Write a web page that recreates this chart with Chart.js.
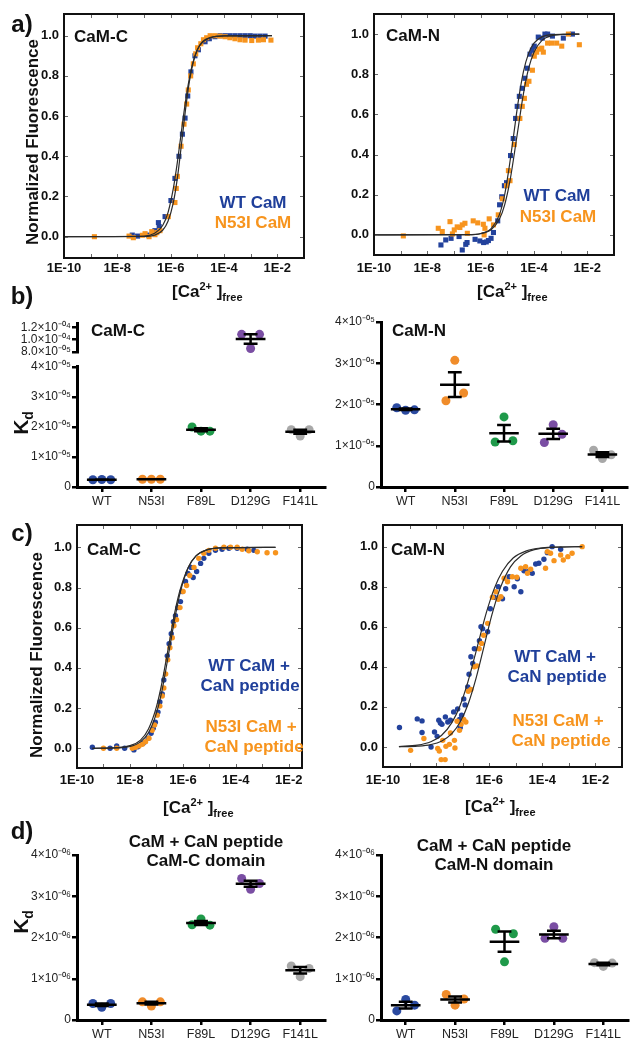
<!DOCTYPE html>
<html>
<head>
<meta charset="utf-8">
<title>CaM Ca2+ binding</title>
<script src="https://cdn.jsdelivr.net/npm/chart.js@4.4.1/dist/chart.umd.min.js"></script>
<style>
  body { margin: 0; background: #fff; }
  #fig { position: relative; width: 641px; height: 1050px; overflow: hidden;
         font-family: "Liberation Sans", Arial, Helvetica, sans-serif; color: #111; }
  canvas { position: absolute; }
  .t { position: absolute; font-weight: bold; white-space: nowrap; line-height: 1; font-size: 17px; }
  .c { transform: translate(-50%, -50%); }
  .r { transform: translate(-50%, -50%) rotate(-90deg); }
  .v { transform: translateY(-50%); }
  .lt { font-size: 24px; }
  .blue { color: #1f3f9a; }
  .orange { color: #f7941d; }
  .sp { font-size: 11px; position: relative; top: -7px; }
  .sb { font-size: 11px; position: relative; top: 4px; }
  .kd { font-size: 21px; }
  .kd span { font-size: 14px; position: relative; top: 5px; }
</style>
</head>
<body>
<div id="fig">
  <canvas id="aC" width="320" height="285" style="left:0;top:0"></canvas>
  <canvas id="aN" width="321" height="285" style="left:320px;top:0"></canvas>
  <canvas id="bCtop" width="330" height="80" style="left:0;top:300px"></canvas>
  <canvas id="bC" width="330" height="215" style="left:0;top:300px"></canvas>
  <canvas id="bN" width="321" height="215" style="left:320px;top:300px"></canvas>
  <canvas id="cC" width="320" height="290" style="left:0;top:510px"></canvas>
  <canvas id="cN" width="321" height="290" style="left:320px;top:510px"></canvas>
  <canvas id="dC" width="330" height="210" style="left:0;top:840px"></canvas>
  <canvas id="dN" width="321" height="210" style="left:320px;top:840px"></canvas>

  <div class="t c lt" style="left:22px;top:24px">a)</div>
  <div class="t c lt" style="left:22px;top:296px">b)</div>
  <div class="t c lt" style="left:22px;top:533px">c)</div>
  <div class="t c lt" style="left:22px;top:831px">d)</div>

  <div class="t r" style="left:32px;top:142px">Normalized Fluorescence</div>
  <div class="t r" style="left:36px;top:655px">Normalized Fluorescence</div>
  <div class="t r kd" style="left:20px;top:423px">K<span>d</span></div>
  <div class="t r kd" style="left:20px;top:922px">K<span>d</span></div>

  <div class="t v" style="left:172px;top:291px">[Ca<span class="sp">2+</span> ]<span class="sb">free</span></div>
  <div class="t v" style="left:477px;top:291px">[Ca<span class="sp">2+</span> ]<span class="sb">free</span></div>
  <div class="t v" style="left:163px;top:807px">[Ca<span class="sp">2+</span> ]<span class="sb">free</span></div>
  <div class="t v" style="left:465px;top:806px">[Ca<span class="sp">2+</span> ]<span class="sb">free</span></div>

  <div class="t c" style="left:101px;top:36px">CaM-C</div>
  <div class="t c blue" style="left:253px;top:202px">WT CaM</div>
  <div class="t c orange" style="left:253px;top:222px">N53I CaM</div>
  <div class="t c" style="left:413px;top:35px">CaM-N</div>
  <div class="t c blue" style="left:557px;top:195px">WT CaM</div>
  <div class="t c orange" style="left:558px;top:216px">N53I CaM</div>

  <div class="t c" style="left:118px;top:330px">CaM-C</div>
  <div class="t c" style="left:419px;top:330px">CaM-N</div>

  <div class="t c" style="left:114px;top:549px">CaM-C</div>
  <div class="t c blue" style="left:249px;top:665px">WT CaM +</div>
  <div class="t c blue" style="left:250px;top:685px">CaN peptide</div>
  <div class="t c orange" style="left:251px;top:726px">N53I CaM +</div>
  <div class="t c orange" style="left:254px;top:746px">CaN peptide</div>
  <div class="t c" style="left:418px;top:549px">CaM-N</div>
  <div class="t c blue" style="left:555px;top:656px">WT CaM +</div>
  <div class="t c blue" style="left:557px;top:676px">CaN peptide</div>
  <div class="t c orange" style="left:558px;top:720px">N53I CaM +</div>
  <div class="t c orange" style="left:561px;top:740px">CaN peptide</div>

  <div class="t c" style="left:206px;top:841px">CaM + CaN peptide</div>
  <div class="t c" style="left:206px;top:860px">CaM-C domain</div>
  <div class="t c" style="left:494px;top:845px">CaM + CaN peptide</div>
  <div class="t c" style="left:494px;top:864px">CaM-N domain</div>
</div>

<script>
'use strict';

// Titration points: [log10 [Ca2+]free, normalized fluorescence]
// a) CaM alone, C-domain
const aC_wt = [[-7.44,0.008],[-7.24,0.003],[-6.84,0.008],[-6.59,0.03],[-6.46,0.07],[-6.43,0.05],[-6.21,0.10],
    [-5.99,0.18],[-5.84,0.29],[-5.69,0.40],[-5.56,0.51],[-5.46,0.59],[-5.36,0.70],[-5.24,0.82],[-5.09,0.90],
    [-4.96,0.93],[-4.71,0.97],[-4.55,0.985],[-4.34,0.995],[-4.15,1.0],[-3.96,1.0],[-3.78,1.0],[-3.59,1.0],
    [-3.4,1.0],[-3.21,1.0],[-3.02,1.0],[-2.84,0.998],[-2.65,0.998],[-2.46,0.998]];
const aC_mut = [[-8.86,0.0],[-7.56,0.003],[-7.4,-0.005],[-7.06,0.007],[-6.96,0.015],[-6.81,0.0],[-6.71,0.025],
    [-6.59,0.01],[-6.52,0.02],[-6.4,0.03],[-6.09,0.10],[-5.84,0.17],[-5.79,0.24],[-5.75,0.30],[-5.61,0.45],
    [-5.5,0.56],[-5.4,0.66],[-5.34,0.73],[-5.25,0.80],[-5.15,0.86],[-5.06,0.91],[-4.99,0.94],[-4.87,0.96],
    [-4.77,0.98],[-4.65,0.99],[-4.52,1.0],[-4.34,1.0],[-4.15,0.998],[-3.96,0.995],[-3.78,0.99],[-3.59,0.985],
    [-3.4,0.98],[-3.21,0.978],[-2.96,0.976],[-2.71,0.978],[-2.52,0.98],[-2.24,0.978]];
const aC_wtFit = [[-10,0],[-7.0,0.003],[-6.6,0.017],[-6.3,0.056],[-6.1,0.12],[-5.9,0.24],[-5.75,0.37],[-5.62,0.5],
    [-5.5,0.62],[-5.35,0.75],[-5.2,0.85],[-5.0,0.93],[-4.8,0.968],[-4.5,0.99],[-4.0,0.999],[-2.2,1.0]];
const aC_mutFit = [[-10,0],[-7.0,0.001],[-6.6,0.008],[-6.3,0.032],[-6.1,0.077],[-5.9,0.17],[-5.75,0.29],[-5.56,0.5],
    [-5.45,0.625],[-5.3,0.77],[-5.15,0.87],[-5.0,0.93],[-4.8,0.971],[-4.5,0.992],[-4.0,0.9995],[-2.2,1.0]];

// a) CaM alone, N-domain
const aN_wt = [[-7.49,-0.05],[-7.31,-0.025],[-7.11,-0.017],[-6.81,-0.008],[-6.69,-0.075],[-6.56,-0.047],
    [-6.51,-0.038],[-6.21,-0.022],[-6.03,-0.03],[-5.89,-0.038],[-5.79,-0.035],[-5.71,-0.028],[-5.61,-0.017],
    [-5.52,0.012],[-5.36,0.07],[-5.29,0.15],[-5.21,0.19],[-5.11,0.245],[-5.03,0.26],[-4.88,0.395],[-4.78,0.48],
    [-4.69,0.58],[-4.63,0.64],[-4.55,0.69],[-4.44,0.73],[-4.34,0.78],[-4.25,0.83],[-4.15,0.90],[-4.06,0.92],
    [-3.99,0.94],[-3.84,0.985],[-3.69,0.98],[-3.59,1.0],[-3.49,1.0],[-3.31,0.99],[-2.9,0.98],[-2.56,1.0]];
const aN_mut = [[-8.9,-0.005],[-7.59,0.033],[-7.44,0.017],[-7.15,0.066],[-7.06,0.005],[-6.99,0.025],[-6.88,0.04],
    [-6.78,0.037],[-6.69,0.05],[-6.59,0.058],[-6.5,0.008],[-6.28,0.07],[-6.11,0.06],[-5.9,0.053],[-5.87,0.0],
    [-5.84,0.033],[-5.68,0.08],[-5.52,0.05],[-5.34,0.10],[-5.19,0.18],[-5.03,0.245],[-4.96,0.32],[-4.9,0.27],
    [-4.74,0.45],[-4.53,0.58],[-4.44,0.64],[-4.36,0.68],[-4.28,0.75],[-4.19,0.765],[-4.06,0.82],[-3.99,0.89],
    [-3.9,0.91],[-3.81,0.925],[-3.71,0.93],[-3.65,0.91],[-3.49,0.955],[-3.34,0.955],[-3.15,0.955],[-2.96,0.94],
    [-2.71,1.0],[-2.3,0.947]];
const aN_wtFit = [[-10,0],[-6.5,0.001],[-6.0,0.007],[-5.6,0.033],[-5.3,0.10],[-5.1,0.20],[-4.95,0.32],[-4.76,0.5],
    [-4.6,0.656],[-4.4,0.81],[-4.2,0.905],[-4.0,0.955],[-3.7,0.986],[-3.3,0.997],[-2.3,1.0]];
const aN_mutFit = [[-10,0],[-6.5,0.001],[-6.0,0.006],[-5.6,0.027],[-5.3,0.078],[-5.1,0.15],[-4.9,0.27],[-4.63,0.5],
    [-4.4,0.70],[-4.2,0.83],[-4.0,0.91],[-3.7,0.969],[-3.3,0.993],[-2.8,0.999],[-2.3,1.0]];

// c) CaM + CaN peptide, C-domain
const cC_wt = [[-9.42,0.005],[-8.75,0.0],[-8.5,0.012],[-8.2,0.0],[-7.85,-0.008],[-7.7,0.008],[-7.5,0.025],
    [-7.31,0.05],[-7.2,0.075],[-7.12,0.10],[-7.04,0.13],[-6.94,0.18],[-6.87,0.23],[-6.78,0.27],[-6.72,0.34],
    [-6.59,0.46],[-6.52,0.52],[-6.44,0.57],[-6.36,0.63],[-6.28,0.66],[-6.19,0.70],[-6.09,0.73],[-6.03,0.78],
    [-5.9,0.83],[-5.81,0.87],[-5.69,0.90],[-5.61,0.85],[-5.48,0.88],[-5.33,0.92],[-5.21,0.945],[-5.02,0.97],
    [-4.77,0.985],[-4.52,0.99],[-4.26,0.995],[-3.95,0.995],[-3.57,0.99],[-3.32,0.985]];
const cC_mut = [[-9.0,0.0],[-8.5,0.0],[-7.91,0.0],[-7.79,0.005],[-7.66,0.012],[-7.53,0.02],[-7.41,0.033],
    [-7.28,0.05],[-7.16,0.09],[-7.07,0.116],[-6.97,0.165],[-6.87,0.21],[-6.78,0.26],[-6.72,0.30],[-6.65,0.37],
    [-6.57,0.44],[-6.49,0.50],[-6.4,0.55],[-6.34,0.61],[-6.24,0.64],[-6.11,0.70],[-5.99,0.78],[-5.86,0.81],
    [-5.74,0.86],[-5.58,0.90],[-5.4,0.945],[-5.21,0.97],[-5.02,0.985],[-4.77,0.995],[-4.45,1.0],[-4.2,1.0],
    [-3.95,1.0],[-3.76,0.99],[-3.51,0.983],[-3.19,0.978],[-2.82,0.973],[-2.5,0.973]];
const cC_wtFit = [[-9.42,0.0],[-8.5,0.003],[-8.0,0.013],[-7.6,0.041],[-7.3,0.096],[-7.0,0.206],[-6.8,0.32],
    [-6.55,0.5],[-6.3,0.68],[-6.1,0.79],[-5.8,0.90],[-5.5,0.959],[-5.1,0.987],[-4.6,0.997],[-2.5,1.0]];
const cC_mutFit = [[-9.42,0.0],[-8.5,0.002],[-8.0,0.009],[-7.6,0.032],[-7.3,0.077],[-7.0,0.175],[-6.8,0.28],
    [-6.5,0.5],[-6.3,0.65],[-6.1,0.776],[-5.8,0.898],[-5.5,0.957],[-5.1,0.987],[-4.6,0.997],[-2.5,1.0]];

// c) CaM + CaN peptide, N-domain
const cN_wt = [[-9.38,0.097],[-8.71,0.14],[-8.53,0.13],[-8.53,0.072],[-8.19,0.0],[-8.06,0.075],[-7.96,0.053],
    [-7.9,0.133],[-7.84,0.12],[-7.78,0.113],[-7.65,0.15],[-7.56,0.125],[-7.46,0.133],[-7.34,0.175],[-7.19,0.19],
    [-7.12,0.137],[-7.09,0.097],[-7.04,0.158],[-6.96,0.24],[-6.91,0.21],[-6.81,0.30],[-6.76,0.363],[-6.69,0.45],
    [-6.62,0.417],[-6.56,0.49],[-6.37,0.53],[-6.31,0.60],[-6.25,0.59],[-6.06,0.575],[-5.96,0.69],[-5.81,0.747],
    [-5.66,0.80],[-5.5,0.74],[-5.38,0.79],[-5.25,0.85],[-5.06,0.80],[-4.94,0.84],[-4.81,0.775],[-4.69,0.88],
    [-4.54,0.875],[-4.38,0.867],[-4.25,0.913],[-4.13,0.917],[-3.94,0.937],[-3.81,0.97],[-3.63,1.0],[-3.31,0.987]];
const cN_mut = [[-8.96,-0.017],[-8.46,0.042],[-7.94,-0.008],[-7.88,-0.02],[-7.81,-0.063],[-7.66,-0.063],
    [-7.75,0.033],[-7.63,0.003],[-7.5,0.013],[-7.46,0.07],[-7.31,0.033],[-7.29,-0.005],[-7.21,0.128],[-7.12,0.083],
    [-7.06,0.113],[-6.96,0.137],[-6.88,0.125],[-6.79,0.278],[-6.69,0.287],[-6.56,0.40],[-6.46,0.405],[-6.38,0.49],
    [-6.29,0.517],[-6.21,0.558],[-6.06,0.617],[-5.88,0.747],[-5.75,0.775],[-5.66,0.737],[-5.56,0.75],[-5.44,0.842],
    [-5.31,0.825],[-5.13,0.85],[-4.96,0.847],[-4.81,0.892],[-4.63,0.90],[-4.56,0.867],[-4.44,0.887],[-3.88,0.892],
    [-3.81,0.975],[-3.69,0.967],[-3.56,0.93],[-3.31,0.958],[-3.21,0.933],[-3.04,0.95],[-2.88,0.967],[-2.5,1.0]];
const cN_wtFit = [[-9.4,0.002],[-8.7,0.009],[-8.2,0.026],[-7.8,0.057],[-7.4,0.123],[-7.1,0.206],[-6.8,0.326],
    [-6.45,0.5],[-6.1,0.674],[-5.8,0.794],[-5.5,0.877],[-5.1,0.943],[-4.6,0.979],[-4.0,0.994],[-3.3,0.998],[-2.5,1.0]];
const cN_mutFit = [[-9.4,0.001],[-8.7,0.004],[-8.2,0.012],[-7.8,0.029],[-7.4,0.068],[-7.1,0.123],[-6.8,0.212],
    [-6.5,0.341],[-6.2,0.5],[-5.9,0.659],[-5.6,0.788],[-5.2,0.899],[-4.8,0.955],[-4.3,0.985],[-3.7,0.996],[-2.5,1.0]];

// Kd replicates (M), one list per mutant
const MUTANTS = ['WT', 'N53I', 'F89L', 'D129G', 'F141L'];
const bC_kd = [[2.4e-6, 2.5e-6, 2.4e-6], [2.6e-6, 2.6e-6, 2.6e-6], [2.0e-5, 1.86e-5, 1.86e-5],
    [1.086e-4, 0.857e-4, 1.086e-4], [1.91e-5, 1.70e-5, 1.91e-5]];
const bN_kd = [[1.92e-5, 1.86e-5, 1.87e-5], [2.09e-5, 3.07e-5, 2.28e-5], [1.09e-5, 1.70e-5, 1.12e-5],
    [1.08e-5, 1.51e-5, 1.28e-5], [0.89e-5, 0.69e-5, 0.78e-5]];
const dC_kd = [[0.40e-6, 0.31e-6, 0.40e-6], [0.44e-6, 0.34e-6, 0.44e-6], [2.31e-6, 2.45e-6, 2.30e-6],
    [3.43e-6, 3.17e-6, 3.31e-6], [1.31e-6, 1.05e-6, 1.25e-6]];
const dN_kd = [[0.22e-6, 0.50e-6, 0.36e-6], [0.62e-6, 0.36e-6, 0.51e-6], [2.20e-6, 1.41e-6, 2.09e-6],
    [1.98e-6, 2.26e-6, 1.98e-6], [1.39e-6, 1.30e-6, 1.38e-6]];

const FRACTION_TICKS = [0, 0.2, 0.4, 0.6, 0.8, 1.0];

// styles
const BLUE = '#23429c', ORANGE = '#f7941e';
const KD_COLORS = ['#2b4aa0', '#f08c2a', '#1f9a4a', '#7a4ea3', '#a8a8a8'];
const JITTER = [-0.18, 0, 0.18];
const MEAN_W = 0.3, CAP_W = 0.14;

Chart.defaults.font.family = '"Liberation Sans", Arial, Helvetica, sans-serif';
Chart.defaults.color = '#111';

const toPts = a => a.map(p => ({x: p[0], y: p[1]}));

// box round the plot area, with short inward ticks
const framePlugin = {
    id: 'frame',
    afterDraw(chart) {
        const {ctx, chartArea: a, scales} = chart;
        ctx.save();
        ctx.strokeStyle = '#666';
        ctx.lineWidth = 1;
        ctx.beginPath();
        for (const t of scales.x.ticks) {
            const px = Math.round(scales.x.getPixelForValue(t.value)) + 0.5;
            ctx.moveTo(px, a.bottom); ctx.lineTo(px, a.bottom - 4);
            ctx.moveTo(px, a.top); ctx.lineTo(px, a.top + 4);
        }
        for (const t of scales.y.ticks) {
            const py = Math.round(scales.y.getPixelForValue(t.value)) + 0.5;
            ctx.moveTo(a.left, py); ctx.lineTo(a.left + 4, py);
            ctx.moveTo(a.right, py); ctx.lineTo(a.right - 4, py);
        }
        ctx.stroke();
        ctx.strokeStyle = '#111';
        ctx.lineWidth = 2;
        ctx.strokeRect(a.left, a.top, a.width, a.height);
        ctx.restore();
    }
};

function curveChart(id, o) {
    const fit = d => ({data: toPts(d), showLine: true, borderColor: '#2b2b2b', borderWidth: 1.2,
        pointRadius: 0, cubicInterpolationMode: 'monotone', order: 0});
    const dots = (d, color, order) => ({data: toPts(d), backgroundColor: color, borderWidth: 0,
        pointStyle: o.marker, pointRadius: o.r, clip: false, order: order});
    new Chart(document.getElementById(id), {
        type: 'scatter',
        data: {datasets: [fit(o.wtFit), fit(o.mutFit), dots(o.mut, ORANGE, 1), dots(o.wt, BLUE, 2)]},
        options: {
            responsive: false, animation: false, events: [], devicePixelRatio: 1,
            layout: {padding: {top: o.top, right: o.right, left: 0, bottom: 0}},
            plugins: {legend: {display: false}, tooltip: {enabled: false}},
            scales: {
                x: {
                    type: 'linear', min: -10, max: o.xMax,
                    border: {display: false}, grid: {display: false, drawTicks: false},
                    afterBuildTicks: s => {
                        s.ticks = [];
                        for (let v = -10; v <= o.xMax; v++) s.ticks.push({value: v});
                    },
                    afterFit: s => { s.height = o.xH; },
                    ticks: {autoSkip: false, maxRotation: 0, padding: o.xPad,
                        font: {size: 13, weight: 'bold'}, callback: v => (v % 2 === 0 ? '1E' + v : '')}
                },
                y: {
                    type: 'linear', min: o.yMin, max: o.yMax,
                    border: {display: false}, grid: {display: false, drawTicks: false},
                    afterBuildTicks: s => { s.ticks = FRACTION_TICKS.map(v => ({value: v})); },
                    afterFit: s => { s.width = o.yW; },
                    ticks: {autoSkip: false, padding: 5, font: {size: 13, weight: 'bold'},
                        callback: v => v.toFixed(1)}
                }
            }
        },
        plugins: [framePlugin]
    });
}

const SUP = {'0': '\u2070', '1': '\u00b9', '2': '\u00b2', '3': '\u00b3', '4': '\u2074', '5': '\u2075',
    '6': '\u2076', '7': '\u2077', '8': '\u2078', '9': '\u2079', '-': '\u207b'};

function sciLabel(v, dec) {
    if (v === 0) return '0';
    const e = Math.floor(Math.log10(v) + 1e-9);
    const m = (v / Math.pow(10, e)).toFixed(dec);
    const exp = ('-' + String(-e).padStart(2, '0')).split('').map(ch => SUP[ch]).join('');
    return m + '\u00d710' + exp;
}

function meanSem(vals) {
    const n = vals.length;
    const m = vals.reduce((a, b) => a + b, 0) / n;
    const sd = Math.sqrt(vals.reduce((a, v) => a + (v - m) * (v - m), 0) / (n - 1));
    return [m, sd / Math.sqrt(n)];
}

// mean line + SEM whiskers as one broken line
function summaryLines(groups, show) {
    const pts = [];
    for (const i of show) {
        const [m, s] = meanSem(groups[i]);
        pts.push({x: i - MEAN_W, y: m}, {x: i + MEAN_W, y: m}, {x: i, y: null},
                 {x: i, y: m - s}, {x: i, y: m + s}, {x: i, y: null},
                 {x: i - CAP_W, y: m + s}, {x: i + CAP_W, y: m + s}, {x: i, y: null},
                 {x: i - CAP_W, y: m - s}, {x: i + CAP_W, y: m - s}, {x: i, y: null});
    }
    return pts;
}

function kdChart(id, o) {
    const showX = o.showX !== false;
    const datasets = [{data: summaryLines(o.groups, o.show), showLine: true, borderColor: '#000',
        borderWidth: 2.5, borderCapStyle: 'butt', pointRadius: 0, spanGaps: false, clip: false, order: 0}];
    for (const i of o.show) {
        datasets.push({data: o.groups[i].map((v, j) => ({x: i + JITTER[j], y: v})),
            backgroundColor: KD_COLORS[i], borderWidth: 0, pointRadius: 4.5, clip: false, order: 1});
    }
    new Chart(document.getElementById(id), {
        type: 'scatter',
        data: {datasets: datasets},
        options: {
            responsive: false, animation: false, events: [], devicePixelRatio: 1,
            layout: {padding: {top: o.top, right: o.right, left: 0, bottom: o.bottom || 0}},
            plugins: {legend: {display: false}, tooltip: {enabled: false}},
            scales: {
                x: {
                    type: 'linear', min: -0.5, max: 4.5, display: showX,
                    border: {color: '#000', width: 3},
                    grid: {drawOnChartArea: false, color: '#000', lineWidth: 2.5, tickLength: 5},
                    afterBuildTicks: s => { s.ticks = MUTANTS.map((m, i) => ({value: i})); },
                    afterFit: s => { s.height = showX ? o.xH : 0; },
                    ticks: {autoSkip: false, maxRotation: 0, padding: 2, color: '#222',
                        font: {size: 12.5}, callback: v => MUTANTS[v]}
                },
                y: {
                    type: 'linear', min: o.yMin, max: o.yMax,
                    border: {color: '#000', width: 3},
                    grid: {drawOnChartArea: false, color: '#000', lineWidth: 2.5, tickLength: 5},
                    afterBuildTicks: s => { s.ticks = o.yTicks.map(v => ({value: v})); },
                    afterFit: s => { s.width = o.yW; },
                    ticks: {autoSkip: false, padding: 1, color: '#222', font: {size: 12},
                        callback: v => sciLabel(v, o.dec)}
                }
            }
        }
    });
}

curveChart('aC', {wt: aC_wt, mut: aC_mut, wtFit: aC_wtFit, mutFit: aC_mutFit, marker: 'rect', r: 3.6,
    xMax: -1, yMin: -0.106, yMax: 1.108, top: 14, right: 16, yW: 64, xH: 27, xPad: 3});
curveChart('aN', {wt: aN_wt, mut: aN_mut, wtFit: aN_wtFit, mutFit: aN_mutFit, marker: 'rect', r: 3.6,
    xMax: -1, yMin: -0.1, yMax: 1.1, top: 14, right: 27, yW: 54, xH: 30, xPad: 6});
curveChart('cC', {wt: cC_wt, mut: cC_mut, wtFit: cC_wtFit, mutFit: cC_mutFit, marker: 'circle', r: 2.7,
    xMax: -1.5, yMin: -0.098, yMax: 1.111, top: 15, right: 18, yW: 77, xH: 32, xPad: 5});
curveChart('cN', {wt: cN_wt, mut: cN_mut, wtFit: cN_wtFit, mutFit: cN_mutFit, marker: 'circle', r: 2.7,
    xMax: -1, yMin: -0.1, yMax: 1.108, top: 15, right: 19, yW: 63, xH: 33, xPad: 6});

// b) C-domain: broken axis, D129G on its own upper segment
kdChart('bCtop', {groups: bC_kd, show: [3], showX: false, yMin: 8e-5, yMax: 1.27e-4,
    yTicks: [8e-5, 1e-4, 1.2e-4], dec: 1, top: 23, right: 5, bottom: 28, yW: 77, xH: 28});
kdChart('bC', {groups: bC_kd, show: [0, 1, 2, 4], yMin: 0, yMax: 4.03e-5,
    yTicks: [0, 1e-5, 2e-5, 3e-5, 4e-5], dec: 0, top: 66, right: 5, yW: 77, xH: 28});
kdChart('bN', {groups: bN_kd, show: [0, 1, 2, 3, 4], yMin: 0, yMax: 4e-5,
    yTicks: [0, 1e-5, 2e-5, 3e-5, 4e-5], dec: 0, top: 22, right: 14, yW: 61, xH: 28});
kdChart('dC', {groups: dC_kd, show: [0, 1, 2, 3, 4], yMin: 0, yMax: 4e-6,
    yTicks: [0, 1e-6, 2e-6, 3e-6, 4e-6], dec: 0, top: 15, right: 5, yW: 77, xH: 30});
kdChart('dN', {groups: dN_kd, show: [0, 1, 2, 3, 4], yMin: 0, yMax: 4e-6,
    yTicks: [0, 1e-6, 2e-6, 3e-6, 4e-6], dec: 0, top: 15, right: 13, yW: 61, xH: 30});
</script>
</body>
</html>
